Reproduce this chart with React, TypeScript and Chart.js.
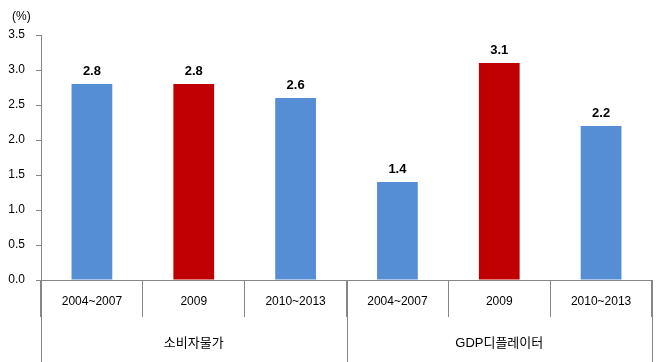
import React, { useEffect, useRef } from 'react';
import { Chart, registerables } from 'chart.js';

Chart.register(...registerables);

// ---- data ----
const subLabels = ['2004~2007', '2009', '2010~2013', '2004~2007', '2009', '2010~2013'];
const groupLabels = ['소비자물가', 'GDP디플레이터'];
const groupSizes = [3, 3];
const values = [2.8, 2.8, 2.6, 1.4, 3.1, 2.2];
const yMin = 0;
const yMax = 3.5;
const yStep = 0.5;
const unitLabel = '(%)';

// ---- style ----
const BLUE = '#558ED5';
const RED = '#C00000';
const barColors = [BLUE, RED, BLUE, BLUE, RED, BLUE];
const AXIS = '#868686';
const FONT = '"Liberation Sans", Arial, "Noto Sans CJK KR", sans-serif';

const dataLabelPlugin = {
  id: 'dataLabels',
  afterDatasetsDraw(chart: any) {
    const ctx = chart.ctx;
    const meta = chart.getDatasetMeta(0);
    ctx.save();
    ctx.font = `bold 13px ${FONT}`;
    ctx.fillStyle = '#000';
    ctx.textAlign = 'center';
    ctx.textBaseline = 'middle';
    meta.data.forEach((el: any, i: number) => {
      ctx.fillText(values[i].toFixed(1), el.x, el.y - 13);
    });
    ctx.restore();
  },
};

// Two-level category axis + unit label, positioned from the scales
const groupAxisPlugin = {
  id: 'groupAxis',
  afterDraw(chart: any) {
    const ctx = chart.ctx;
    const xs = chart.scales.x;
    const area = chart.chartArea;
    const bottom = chart.height;
    const subMid = area.bottom + 22;
    const groupMid = area.bottom + 63;
    const edge = (i: number) => xs.getPixelForValue(i - 0.5);
    ctx.save();
    ctx.textBaseline = 'middle';
    ctx.fillStyle = '#000';
    ctx.font = `12px ${FONT}`;
    ctx.textAlign = 'left';
    ctx.fillText(unitLabel, area.left - 29, area.top - 18);
    ctx.textAlign = 'center';
    subLabels.forEach((lab, i) => {
      ctx.fillText(lab, xs.getPixelForValue(i), subMid);
    });
    ctx.font = `13px ${FONT}`;
    ctx.strokeStyle = AXIS;
    ctx.lineWidth = 1;
    let start = 0;
    groupLabels.forEach((lab, g) => {
      const end = start + groupSizes[g];
      const l = edge(start);
      const r = edge(end);
      ctx.fillText(lab, (l + r) / 2, groupMid);
      [l, r].forEach((px) => {
        const x = Math.round(px) + 0.5;
        ctx.beginPath();
        ctx.moveTo(x, area.bottom);
        ctx.lineTo(x, bottom);
        ctx.stroke();
      });
      start = end;
    });
    ctx.restore();
  },
};

export default function App() {
  const canvasRef = useRef<HTMLCanvasElement | null>(null);

  useEffect(() => {
    if (!canvasRef.current) return;
    const chart = new Chart(canvasRef.current, {
      type: 'bar',
      data: {
        labels: subLabels,
        datasets: [
          {
            data: values,
            backgroundColor: barColors,
            borderWidth: 0,
            barPercentage: 0.4,
            categoryPercentage: 1,
          },
        ],
      },
      plugins: [dataLabelPlugin, groupAxisPlugin],
      options: {
        responsive: false,
        animation: false,
        devicePixelRatio: 1,
        layout: { padding: { top: 35, left: 5, right: 11, bottom: 45 } },
        plugins: {
          legend: { display: false },
          tooltip: { enabled: false },
          title: { display: false },
        },
        scales: {
          x: {
            type: 'category',
            offset: true,
            grid: {
              offset: true,
              drawOnChartArea: false,
              drawTicks: true,
              tickLength: 37,
              color: AXIS,
            },
            border: { display: true, color: AXIS },
            ticks: { display: false },
          },
          y: {
            min: yMin,
            max: yMax,
            afterFit: (scale: any) => {
              scale.width = 36;
            },
            grid: {
              drawOnChartArea: false,
              drawTicks: true,
              tickLength: 5,
              color: AXIS,
            },
            border: { display: true, color: AXIS },
            ticks: {
              stepSize: yStep,
              padding: 11,
              color: '#000',
              font: { size: 12, family: FONT },
              callback: (v: any) => Number(v).toFixed(1),
            },
          },
        },
      },
    } as any);
    return () => chart.destroy();
  }, []);

  return (
    <div style={{ position: 'absolute', left: 0, top: 0, width: 663, height: 362 }}>
      <canvas ref={canvasRef} width={663} height={362} style={{ display: 'block' }} />
    </div>
  );
}
